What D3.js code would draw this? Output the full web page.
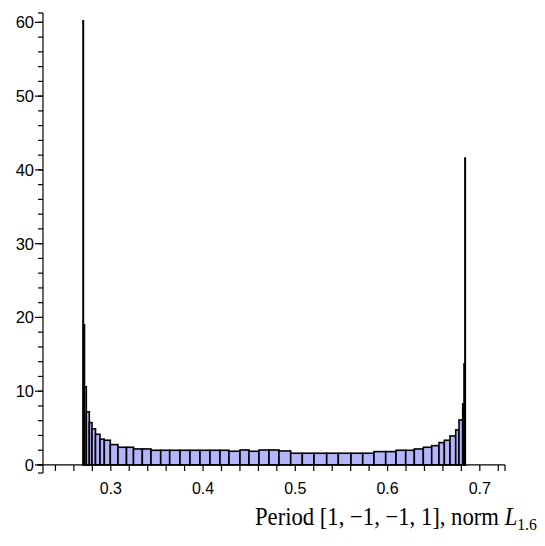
<!DOCTYPE html>
<html>
<head>
<meta charset="utf-8">
<script src="https://cdn.jsdelivr.net/npm/d3@7"></script>
<style>
  html, body { margin: 0; padding: 0; background: #fff; }
  svg { display: block; }
</style>
</head>
<body>
<svg id="chart" width="545" height="546"></svg>
<script>
// ---- data ----
const binEdges = [
  0.26986, 0.27030, 0.27149, 0.27344, 0.27669, 0.27962, 0.28341, 0.28829, 0.29295, 0.29946,
  0.30780, 0.31702, 0.32461, 0.33415, 0.34358, 0.35409, 0.36385, 0.37501, 0.38585, 0.39669,
  0.40753, 0.41837, 0.42813, 0.44005, 0.44981, 0.46065, 0.47149, 0.48233, 0.49501, 0.50759,
  0.52027, 0.53404, 0.54661, 0.56038, 0.57306, 0.58531, 0.59799, 0.60916, 0.61967, 0.62900,
  0.63875, 0.64786, 0.65577, 0.66152, 0.66770, 0.67388, 0.67745, 0.68146, 0.68287, 0.68385,
  0.68428
];
const binHeights = [
  60.2, 19.0, 10.6, 7.2, 5.74, 4.9, 4.16, 3.5, 3.35, 2.76,
  2.4, 2.4, 2.17, 2.17, 1.99, 1.99, 1.99, 1.99, 1.99, 1.99,
  1.99, 1.99, 1.86, 2.03, 1.86, 2.03, 2.03, 1.9, 1.59, 1.59,
  1.59, 1.59, 1.59, 1.59, 1.59, 1.81, 1.81, 1.99, 1.99, 2.17,
  2.4, 2.62, 3.03, 3.35, 3.93, 4.75, 6.1, 8.27, 13.7, 41.6
];
const xTickLabels = [0.3, 0.4, 0.5, 0.6, 0.7];
const xMinorTicks = [0.24, 0.26, 0.28, 0.30, 0.32, 0.34, 0.36, 0.38, 0.40, 0.42, 0.44, 0.46, 0.48,
                     0.50, 0.52, 0.54, 0.56, 0.58, 0.60, 0.62, 0.64, 0.66, 0.68, 0.70, 0.72];
const yTickLabels = [0, 10, 20, 30, 40, 50, 60];
const yMinorTicks = d3.range(0, 61, 2);
const xDomain = [0.2265, 0.7273];
const yDomain = [-1.09, 61.27];

const bins = binHeights.map((h, i) => ({ x0: binEdges[i], x1: binEdges[i + 1], h }));

// ---- layout ----
const svg = d3.select("#chart");
const x = d3.scaleLinear().domain(xDomain).range([43, 505]);
const y = d3.scaleLinear().domain(yDomain).range([473, 13]);

// bars
svg.append("g")
  .selectAll("rect")
  .data(bins)
  .join("rect")
  .attr("x", d => x(d.x0))
  .attr("y", d => y(d.h))
  .attr("width", d => Math.max(0.01, x(d.x1) - x(d.x0)))
  .attr("height", d => y(0) - y(d.h))
  .attr("fill", "#b4b4fc")
  .attr("stroke", "#000")
  .attr("stroke-width", 1.6)
  .attr("stroke-linejoin", "miter");

// y axis
const yAxis = svg.append("g").attr("stroke", "#000").attr("stroke-width", 1.2);
yAxis.append("line").attr("x1", x(xDomain[0])).attr("x2", x(xDomain[0]))
  .attr("y1", y(yDomain[1])).attr("y2", y(yDomain[0]));
yAxis.selectAll("line.minor").data(yMinorTicks).join("line").attr("class", "minor")
  .attr("x1", x(xDomain[0]) - 5).attr("x2", x(xDomain[0]))
  .attr("y1", d => y(d)).attr("y2", d => y(d));
yAxis.selectAll("line.major").data(yTickLabels).join("line").attr("class", "major")
  .attr("x1", x(xDomain[0]) - 8).attr("x2", x(xDomain[0]))
  .attr("y1", d => y(d)).attr("y2", d => y(d));
yAxis.selectAll("line.cap").data(yDomain).join("line").attr("class", "cap")
  .attr("x1", x(xDomain[0]) - 5).attr("x2", x(xDomain[0]))
  .attr("y1", d => y(d)).attr("y2", d => y(d));

svg.append("g").selectAll("text").data(yTickLabels).join("text")
  .attr("x", x(xDomain[0]) - 9)
  .attr("y", d => y(d))
  .attr("dy", "0.36em")
  .attr("text-anchor", "end")
  .attr("font-family", "'Liberation Sans', Arial, sans-serif")
  .attr("font-size", 16.5)
  .attr("fill", "#000")
  .text(d => d);

// x axis
const xAxis = svg.append("g").attr("stroke", "#000").attr("stroke-width", 1.2);
xAxis.append("line").attr("x1", x(xDomain[0]) - 6).attr("x2", x(xDomain[1]))
  .attr("y1", y(0)).attr("y2", y(0));
xAxis.selectAll("line.tick").data(xMinorTicks).join("line").attr("class", "tick")
  .attr("x1", d => x(d)).attr("x2", d => x(d))
  .attr("y1", y(0)).attr("y2", y(0) + 6);
xAxis.append("line").attr("x1", x(xDomain[1])).attr("x2", x(xDomain[1]))
  .attr("y1", y(0)).attr("y2", y(0) + 6);

svg.append("g").selectAll("text").data(xTickLabels).join("text")
  .attr("x", d => x(d))
  .attr("y", y(0) + 23)
  .attr("dy", "0.36em")
  .attr("text-anchor", "middle")
  .attr("font-family", "'Liberation Sans', Arial, sans-serif")
  .attr("font-size", 16)
  .attr("fill", "#000")
  .text(d => d.toFixed(1));

// title
const titleG = svg.append("g");
const title = titleG.append("text")
  .attr("x", 0)
  .attr("y", 0)
  .attr("font-family", "'Liberation Serif', 'DejaVu Serif', serif")
  .attr("font-size", 24.5)
  .attr("fill", "#000");
title.append("tspan").text("Period [1, \u22121, \u22121, 1], norm ");
title.append("tspan").attr("font-style", "italic").text("L");
title.append("tspan").attr("font-size", 17).attr("dy", 4.5).text("1.6");
const bb = title.node().getBBox();
const targetLeft = 255, targetRight = 537;
const sx = (targetRight - targetLeft) / bb.width;
titleG.attr("transform", `translate(${targetLeft - bb.x * sx},525) scale(${sx},1)`);
</script>
</body>
</html>
